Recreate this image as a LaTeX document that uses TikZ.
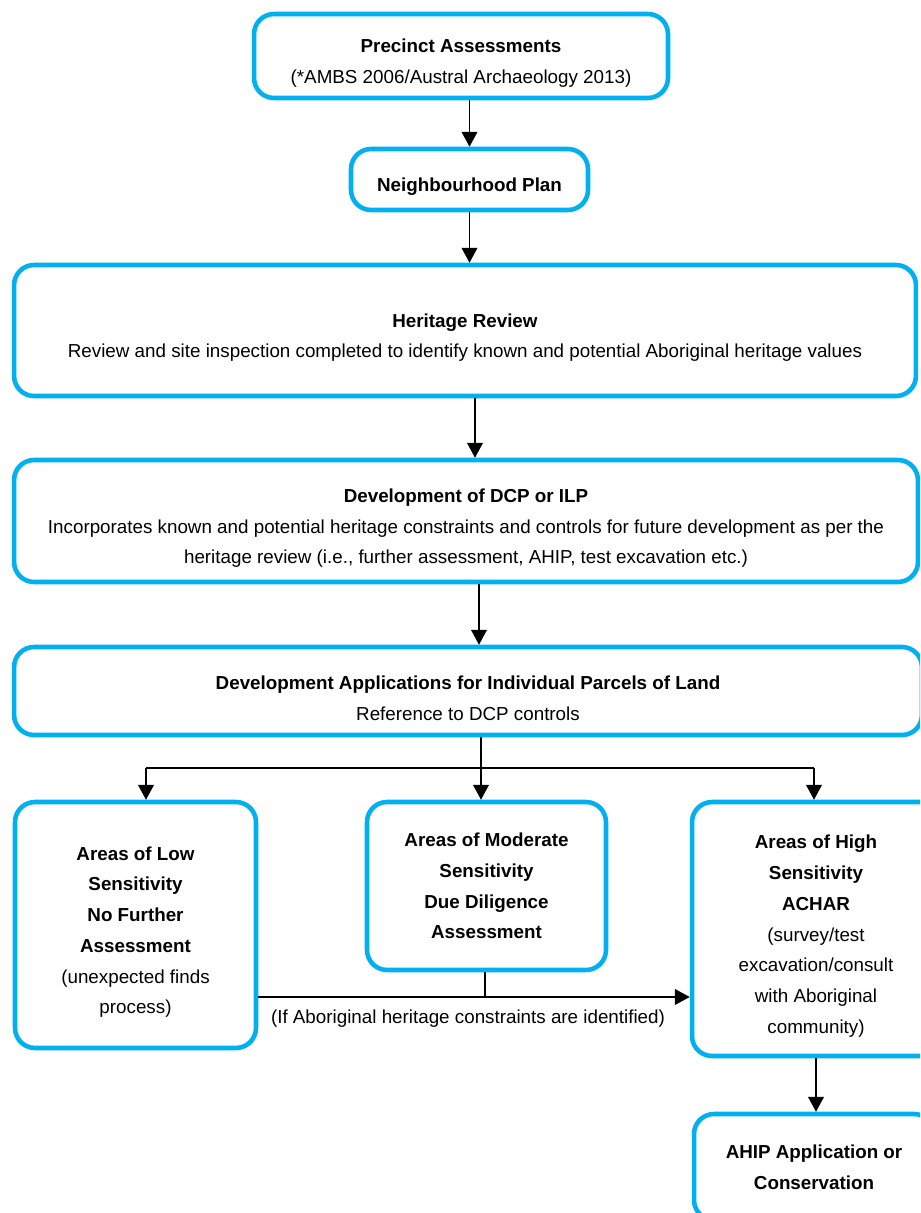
\documentclass[tikz,border=0pt]{standalone}
\usepackage{fontspec}
\setmainfont{Liberation Sans}
\usetikzlibrary{arrows.meta,positioning,calc}
\definecolor{boxblue}{HTML}{00B0F0}
\newcommand{\boxhead}[1]{\rule{0pt}{16pt}\textbf{#1}}

\begin{document}
\begin{tikzpicture}[x=0.02cm,y=-0.02cm,
    box/.style={draw=boxblue, line width=2.6pt, rounded corners=0.4cm, align=center, inner sep=0pt, font=\fontsize{10.7}{17.5}\selectfont},
    arr/.style={-{Triangle[width=9pt,length=8.5pt]}, line width=0.8pt}]
    \clip (0,0) rectangle (920,1213);

    % Top of the flow
    \node[box, minimum width=8.28cm, minimum height=1.68cm] (precinct) at (461,56) {\boxhead{Precinct Assessments}\\(*AMBS 2006/Austral Archaeology 2013)};
    \node[box, minimum width=4.74cm, minimum height=1.22cm] (neighbourhood) at (469.5,179.5) {\boxhead{Neighbourhood Plan}};
    \node[box, minimum width=18.04cm, minimum height=2.62cm] (heritage) at (465,330.5) {\boxhead{Heritage Review}\\Review and site inspection completed to identify known and potential Aboriginal heritage values};
    \node[box, minimum width=18.08cm, minimum height=2.44cm] (dcp) at (466,521) {\boxhead{Development of DCP or ILP}\\Incorporates known and potential heritage constraints and controls for future development as per the\\heritage review (i.e., further assessment, AHIP, test excavation etc.)};
    \node[box, minimum width=18.16cm, minimum height=1.76cm] (devapp) at (468,691) {\boxhead{Development Applications for Individual Parcels of Land}\\Reference to DCP controls};

    % Sensitivity areas
    \node[box, minimum width=4.82cm, minimum height=4.92cm] (low) at (135.5,925) {\boxhead{Areas of Low}\\\textbf{Sensitivity}\\\textbf{No Further}\\\textbf{Assessment}\\(unexpected finds\\process)};
    \node[box, minimum width=4.78cm, minimum height=3.36cm] (moderate) at (486.5,886) {\textbf{Areas of Moderate}\\\textbf{Sensitivity}\\\textbf{Due Diligence}\\\textbf{Assessment}};
    \node[box, minimum width=4.96cm, minimum height=5.08cm] (high) at (816,929) {\boxhead{Areas of High}\\\textbf{Sensitivity}\\\textbf{ACHAR}\\(survey/test\\excavation/consult\\with Aboriginal\\community)};
    \node[box, minimum width=4.8cm, minimum height=2.12cm] (ahip) at (814,1167) {\textbf{AHIP Application or}\\\textbf{Conservation}};

    % Arrows down the page
    \draw[arr] (neighbourhood.north |- precinct.south) -- (neighbourhood.north);
    \draw[arr] (neighbourhood.south) -- (neighbourhood.south |- heritage.north);
    \draw[arr] ([xshift=0.2cm]heritage.south) -- ([xshift=0.2cm]heritage.south |- dcp.north);
    \draw[arr] ([xshift=0.26cm]dcp.south) -- ([xshift=0.26cm]dcp.south |- devapp.north);

    % Fork to the three areas
    \coordinate (fork) at (481,768);
    \coordinate (forkL) at (146,768);
    \coordinate (forkR) at (814,768);
    \draw[line width=0.8pt] (devapp.south -| fork) -- (fork);
    \draw[line width=0.8pt] (forkL) -- (forkR);
    \draw[arr] (forkL) -- (forkL |- low.north);
    \draw[arr] (fork) -- (fork |- moderate.north);
    \draw[arr] (forkR) -- (forkR |- high.north);

    % Constraints path
    \coordinate (join) at (485,997);
    \draw[line width=0.8pt] (moderate.south -| join) -- (join);
    \draw[arr] (low.east |- join) -- (high.west |- join);
    \node[font=\fontsize{10.7}{12}\selectfont] (cond) at (468,1019) {(If Aboriginal heritage constraints are identified)};

    \draw[arr] (high.south) -- (high.south |- ahip.north);
\end{tikzpicture}
\end{document}
